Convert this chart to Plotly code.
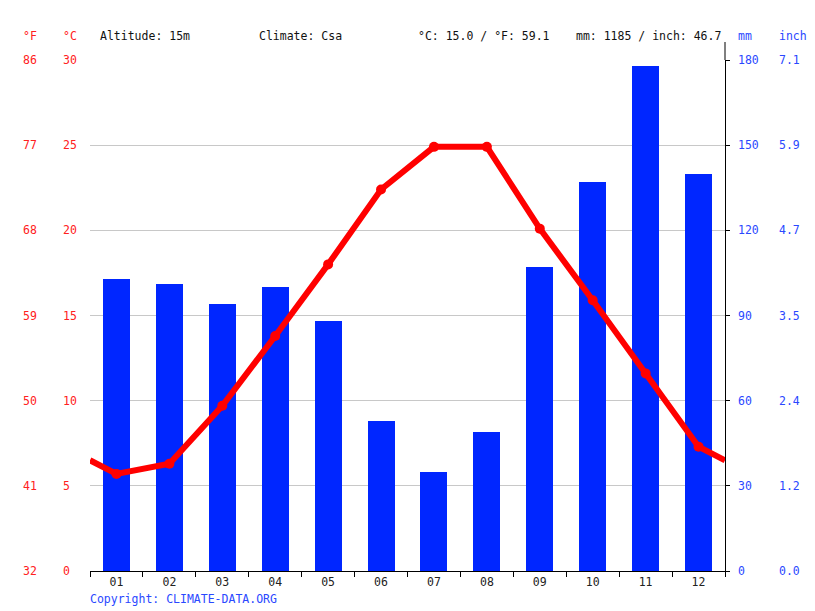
import plotly.graph_objects as go

months = ["01", "02", "03", "04", "05", "06", "07", "08", "09", "10", "11", "12"]
temp_c = [5.7, 6.3, 9.7, 13.8, 18.0, 22.4, 24.9, 24.9, 20.1, 15.9, 11.6, 7.3]
precip_mm = [103, 101, 94, 100, 88, 53, 35, 49, 107, 137, 178, 140]

c_ticks = [0, 5, 10, 15, 20, 25, 30]
f_labels = ["32", "41", "50", "59", "68", "77", "86"]
mm_ticks = [0, 30, 60, 90, 120, 150, 180]
inch_labels = ["0.0", "1.2", "2.4", "3.5", "4.7", "5.9", "7.1"]

header_altitude = "Altitude: 15m"
header_climate = "Climate: Csa"
header_temp = "°C: 15.0 / °F: 59.1"
header_precip = "mm: 1185 / inch: 46.7"

# page is rendered with an 8px body margin; compensate
OFF = 8
PAGE_W, PAGE_H = 815, 611
PL, PR, PT, PB = 90, 725, 60, 571  # plot area in page pixels
W, H = PAGE_W - OFF, PAGE_H - OFF
L, T = PL - OFF, PT - OFF
R, B = PAGE_W - PR, PAGE_H - PB
PW = PR - PL
PH = PB - PT
TXT_PAD = 2  # annotation inner padding

def px(x):
    return (x - TXT_PAD - PL) / PW

def py(y):
    return (PB - y) / PH

FONT = "DejaVu Sans Mono"
FS = 11.5
RED = "#ff2020"
BLUE = "#2a48ff"

x_idx = list(range(1, 13))
edge = (temp_c[0] + temp_c[-1]) / 2
line_x = [0.5] + x_idx + [12.5]
line_y = [edge] + temp_c + [edge]

fig = go.Figure()
fig.add_trace(go.Bar(x=x_idx, y=precip_mm, yaxis="y", width=0.51,
                     marker=dict(color="#0026ff", line=dict(width=0)),
                     hoverinfo="skip"))
fig.add_trace(go.Scatter(x=line_x, y=line_y, mode="lines", yaxis="y2",
                         line=dict(color="#ff0000", width=6), hoverinfo="skip"))
fig.add_trace(go.Scatter(x=x_idx, y=temp_c, mode="markers", yaxis="y2",
                         marker=dict(color="#ff0000", size=10), hoverinfo="skip"))

ann = []
for v, f in zip(c_ticks, f_labels):
    ann.append(dict(x=px(63), y=v, xref="paper", yref="y2", text=str(v),
                    xanchor="left", yanchor="middle", showarrow=False,
                    font=dict(family=FONT, size=FS, color=RED)))
    ann.append(dict(x=px(23), y=v, xref="paper", yref="y2", text=f,
                    xanchor="left", yanchor="middle", showarrow=False,
                    font=dict(family=FONT, size=FS, color=RED)))
for v, inch in zip(mm_ticks, inch_labels):
    ann.append(dict(x=px(738), y=v, xref="paper", yref="y", text=str(v),
                    xanchor="left", yanchor="middle", showarrow=False,
                    font=dict(family=FONT, size=FS, color=BLUE)))
    ann.append(dict(x=px(779), y=v, xref="paper", yref="y", text=inch,
                    xanchor="left", yanchor="middle", showarrow=False,
                    font=dict(family=FONT, size=FS, color=BLUE)))

hy = py(36)
for xp, txt, col in [(23, "°F", RED), (63, "°C", RED), (100, header_altitude, "#111"),
                     (259, header_climate, "#111"), (418, header_temp, "#111"),
                     (576, header_precip, "#111"), (738, "mm", BLUE), (779, "inch", BLUE)]:
    ann.append(dict(x=px(xp), y=hy, xref="paper", yref="paper", text=txt,
                    xanchor="left", yanchor="middle", showarrow=False,
                    font=dict(family=FONT, size=FS, color=col)))
ann.append(dict(x=px(90), y=py(599), xref="paper", yref="paper",
                text="Copyright: CLIMATE-DATA.ORG", xanchor="left", yanchor="middle",
                showarrow=False, font=dict(family=FONT, size=FS, color=BLUE)))

fig.update_layout(
    width=W, height=H,
    margin=dict(l=L, r=R, t=T, b=B, pad=0),
    paper_bgcolor="white", plot_bgcolor="white",
    showlegend=False, bargap=0,
    font=dict(family=FONT, size=FS, color="#222"),
    xaxis=dict(range=[0.5, 12.5], tickmode="array", tickvals=x_idx, ticktext=months,
               ticks="", showgrid=False, zeroline=False, showline=True,
               linecolor="black", linewidth=1,
               tickfont=dict(family=FONT, size=FS, color="#222"),
               minor=dict(tickmode="array", tickvals=[i + 0.5 for i in range(0, 13)],
                          ticks="outside", ticklen=5, tickcolor="black", showgrid=False)),
    yaxis=dict(range=[0, 180], tickvals=mm_ticks, showticklabels=False,
               side="right", ticks="outside", ticklen=4, tickcolor="black",
               showgrid=True, gridcolor="#c8c8c8", gridwidth=1, zeroline=False,
               showline=True, linecolor="black", linewidth=1),
    yaxis2=dict(range=[0, 30], tickvals=c_ticks, showticklabels=False, ticks="",
                overlaying="y", side="left", showgrid=False, zeroline=False,
                showline=False),
    annotations=ann,
    shapes=[dict(type="line", xref="paper", yref="paper", x0=1, x1=1, y0=1,
                 y1=py(42), line=dict(color="black", width=1))],
)

fig.write_html("out.html")
